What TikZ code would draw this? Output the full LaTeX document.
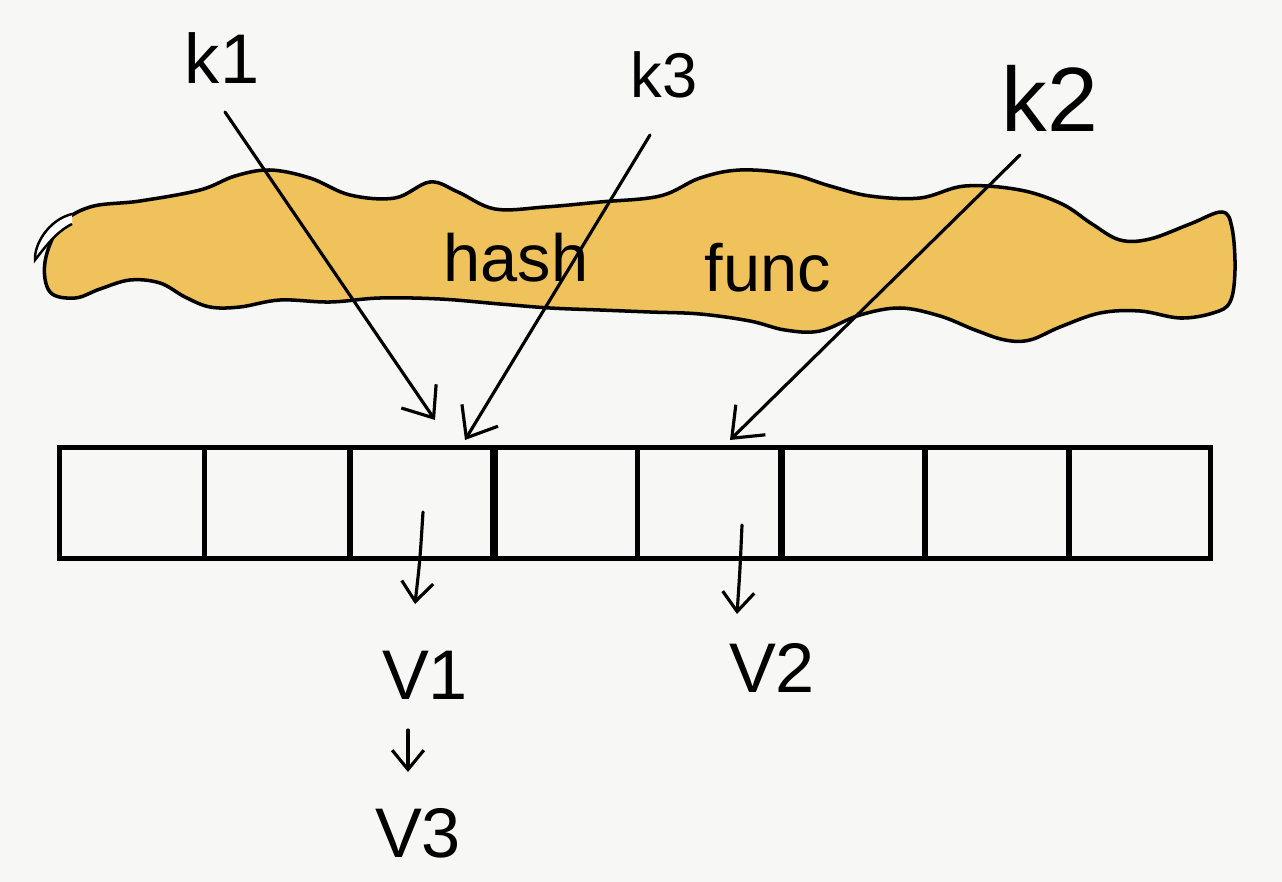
\documentclass[tikz,border=0pt]{standalone}
\usepackage{fontspec}
\setmainfont{Liberation Sans}
\usetikzlibrary{arrows.meta}
\definecolor{bg}{HTML}{F7F7F5}
\definecolor{blob}{HTML}{EFC25B}
\tikzset{
  hand/.style={line width=1.8pt, line cap=round, line join=round},
  arr/.style={hand, -{Straight Barb[length=15pt, width=24pt, line width=1.8pt]}},
  smallarr/.style={hand, -{Straight Barb[length=11pt, width=18pt, line width=1.8pt]}},
  cell/.style={draw, line width=2.8pt, minimum width=2.88cm, minimum height=2.22cm, inner sep=0pt, anchor=north west},
  lbl/.style={inner sep=0pt, font=\fontsize{40}{44}\selectfont},
  bigtxt/.style={inner sep=0pt, font=\fontsize{38}{42}\selectfont},
}
\begin{document}
\begin{tikzpicture}[x=0.02cm, y=-0.02cm]
\useasboundingbox[fill=bg] (0,0) rectangle (1282,882);
% hash function blob
\draw[fill=blob, line width=2pt] plot[smooth cycle, tension=0.6] coordinates {
(50,292) (45,262) (60,226) (90,207) (140,201) (200,190) (235,176) (270,170) (310,178)
(350,195) (395,198) (430,182) (458,192) (495,209) (545,207) (600,202) (660,196) (700,178)
(740,170) (790,174) (830,186) (870,196) (920,198) (965,186) (1020,190) (1062,204) (1092,224)
(1120,240) (1150,239) (1190,224) (1222,212) (1232,228) (1235,270) (1230,302) (1213,313)
(1180,318) (1140,311) (1100,313) (1060,327) (1030,340) (1005,340) (975,330) (940,316)
(900,308) (860,315) (820,331) (785,330) (750,321) (700,314) (650,312) (600,310) (550,308)
(500,304) (440,299) (380,298) (330,302) (280,300) (240,307) (210,307) (185,297) (160,283)
(130,280) (100,289) (75,298)};
\draw[fill=white, line width=1.4pt] (72,214) .. controls (48,220) and (34,245) .. (35,260)
  .. controls (46,246) and (56,232) .. (72,224);
\node[bigtxt] (hash) at (516,258) {hash};
\node[bigtxt] (func) at (768,268) {func};
% bucket array
\foreach \i/\x in {1/57,2/202,3/348,4/490,5/635,6/778,7/922,8/1066}{
  \node[cell, minimum width={(\ifnum\i=8 2.84\else 2.9\fi cm)}] (c\i) at (\x,445) {};
}
% keys
\node[lbl] (k1) at (222,58) {k1};
\node[lbl, font=\fontsize{36}{40}\selectfont] (k3) at (664,75) {k3};
\node[lbl, font=\fontsize{52}{56}\selectfont] (k2) at (1050,98) {k2};
% values
\node[lbl] (v1) at (425,675) {V1};
\node[lbl] (v2) at (772,668) {V2};
\node[lbl] (v3) at (418,833) {V3};
% arrow end points
\coordinate (k1s) at (225,112);
\coordinate (k1e) at (435,420);
\coordinate (k3s) at (650,135);
\coordinate (k3e) at (465,440);
\coordinate (k2s) at (1020,155);
\coordinate (k2e) at (730,440);
\draw[arr] (k1s) -- (k1e);
\draw[arr] (k3s) -- (k3e);
\draw[arr] (k2s) -- (k2e);
% bucket to value arrows
\coordinate (b3) at (423,512);
\coordinate (b5) at (742,525);
\draw[smallarr] (b3) .. controls (420,560) .. (415,604);
\draw[smallarr] (b5) .. controls (740,570) .. (737,614);
\coordinate (v1b) at (408,730);
\coordinate (v3t) at (408,772);
\draw[smallarr] (v1b) -- (v3t);
\end{tikzpicture}
\end{document}
